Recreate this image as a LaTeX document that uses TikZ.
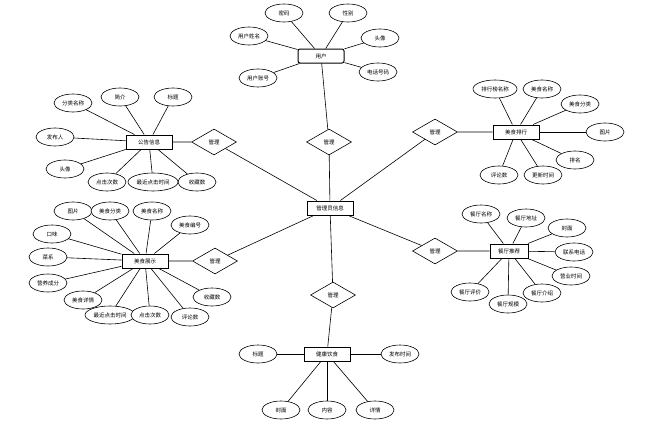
\documentclass[tikz,border=0pt]{standalone}
\usepackage{fontspec}
\setmainfont{Noto Sans CJK SC}
\usetikzlibrary{shapes.geometric}
\tikzset{
  attr/.style={ellipse,draw,line width=0.6pt,minimum width=38pt,minimum height=18pt,inner sep=1pt,fill=white},
  wideattr/.style={attr,minimum width=50pt},
  entity/.style={rectangle,draw,line width=1pt,minimum width=46pt,minimum height=14pt,inner sep=1pt,fill=white},
  rel/.style={diamond,draw,line width=0.6pt,minimum width=45pt,minimum height=26pt,inner sep=0pt,fill=white},
}
\begin{document}
\begin{tikzpicture}[x=1pt,y=-1pt,line width=0.6pt,font=\fontsize{5.5}{6}\selectfont]
\useasboundingbox (0,0) rectangle (648,431);

% entities
\node[entity] (admin) at (330,208) {管理员信息};
\node[entity,rounded corners=2pt] (user) at (321,56) {用户};
\node[entity] (news) at (149,142) {公告信息};
\node[entity] (food) at (145,261) {美食展示};
\node[entity] (rank) at (516,132) {美食排行};
\node[entity,minimum width=38pt] (shop) at (509,251) {餐厅推荐};
\node[entity] (health) at (327,354) {健康饮食};

% relations
\node[rel] (r1) at (329,142) {管理};
\node[rel] (r2) at (214,142) {管理};
\node[rel] (r3) at (215,261) {管理};
\node[rel] (r4) at (435,132) {管理};
\node[rel] (r5) at (435,251) {管理};
\node[rel] (r6) at (333,295) {管理};

\draw (user) -- (r1) -- (admin);
\draw (news) -- (r2) -- (admin);
\draw (food) -- (r3) -- (admin);
\draw (rank) -- (r4) -- (admin);
\draw (shop) -- (r5) -- (admin);
\draw (health) -- (r6) -- (admin);

% attributes of user
\foreach \n/\x/\y/\t in {u1/284/13/密码, u2/348/13/性别, u3/380/38/头像,
    u4/378/72/电话号码, u5/249/36/用户姓名, u6/258/78/用户账号}
  {\node[attr] (\n) at (\x,\y) {\t}; \draw (\n) -- (user);}

% attributes of news
\foreach \n/\x/\y/\t in {a1/73/103/分类名称, a2/120/97/简介, a3/173/97/标题,
    a4/55/137/发布人, a5/65/169/头像, a6/107/182/点击次数, a8/197/182/收藏数}
  {\node[attr] (\n) at (\x,\y) {\t}; \draw (\n) -- (news);}
\node[wideattr] (a7) at (153,182) {最近点击时间};
\draw (a7) -- (news);

% attributes of food
\foreach \n/\x/\y/\t in {b1/73/211/图片, b2/110/211/美食分类, b3/152/211/美食名称,
    b4/190/225/美食编号, b5/52/234/口味, b6/48/257/菜系, b7/48/283/营养成分,
    b8/83/300/美食详情, b11/190/317/评论数, b12/212/297/收藏数}
  {\node[attr] (\n) at (\x,\y) {\t}; \draw (\n) -- (food);}
\node[wideattr] (b9) at (110,315) {最近点击时间};
\draw (b9) -- (food);
\node[attr] (b10) at (150,315) {点击次数};
\draw (b10) -- (food);

% attributes of rank
\foreach \n/\x/\y/\t in {c2/542/89/美食名称, c3/580/104/美食分类,
    c4/605/132/图片, c5/575/160/排名, c6/543/175/更新时间, c7/499/175/评论数}
  {\node[attr] (\n) at (\x,\y) {\t}; \draw (\n) -- (rank);}
\node[attr,minimum width=44pt] (c1) at (495,89) {排行榜名称};
\draw (c1) -- (rank);

% attributes of shop
\foreach \n/\x/\y/\t in {d1/481/214/餐厅名称, d2/526/218/餐厅地址, d3/567/228/封面,
    d4/574/252/联系电话, d5/571/276/营业时间, d6/542/293/餐厅介绍,
    d7/508/304/餐厅规模, d8/470/292/餐厅评价}
  {\node[attr] (\n) at (\x,\y) {\t}; \draw (\n) -- (shop);}

% attributes of health
\foreach \n/\x/\y/\t in {e1/258/354/标题, e2/400/354/发布时间, e3/281/410/封面,
    e4/327/410/内容, e5/375/410/详情}
  {\node[attr] (\n) at (\x,\y) {\t}; \draw (\n) -- (health);}
\end{tikzpicture}
\end{document}
